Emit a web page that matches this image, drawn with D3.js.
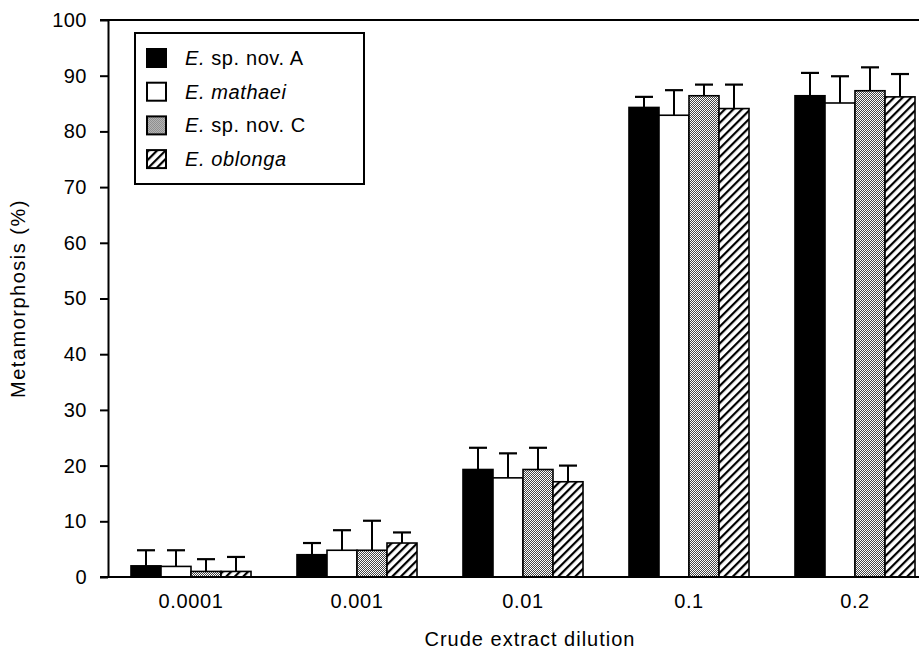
<!DOCTYPE html>
<html>
<head>
<meta charset="utf-8">
<script src="https://cdn.jsdelivr.net/npm/d3@7"></script>
<style>
  html, body { margin: 0; padding: 0; background: #fff; }
  svg { display: block; font-family: "Liberation Sans", Arial, sans-serif; }
</style>
</head>
<body>
<div id="chart"></div>
<script>
// Dilutions on the x axis
const dilutions = ['0.0001', '0.001', '0.01', '0.1', '0.2'];

// Species (legend order)
const species = ['spA', 'mathaei', 'spC', 'oblonga'];

// Mean metamorphosis (%) per species, one value per dilution
const spA     = [2.0, 4.0, 19.3, 84.3, 86.4];
const mathaei = [1.9, 4.8, 17.8, 82.9, 85.1];
const spC     = [1.0, 4.8, 19.3, 86.4, 87.3];
const oblonga = [1.0, 6.1, 17.1, 84.1, 86.2];

// Upper error bars (SD)
const spA_err     = [2.8, 2.1, 3.9, 1.9, 4.1];
const mathaei_err = [2.9, 3.6, 4.4, 4.5, 4.8];
const spC_err     = [2.2, 5.3, 3.9, 2.0, 4.2];
const oblonga_err = [2.6, 1.9, 2.9, 4.3, 4.1];

const yTicks = [0, 10, 20, 30, 40, 50, 60, 70, 80, 90, 100];

const means = { spA, mathaei, spC, oblonga };
const errs = { spA: spA_err, mathaei: mathaei_err, spC: spC_err, oblonga: oblonga_err };

const width = 919, height = 651;
const margin = { top: 20, left: 108, bottom: 74 };
const plotRight = 938; // the frame runs off the right edge

const svg = d3.select('#chart').append('svg')
  .attr('width', width)
  .attr('height', height);

// Fill patterns
const defs = svg.append('defs');

const checker = defs.append('pattern')
  .attr('id', 'checker')
  .attr('patternUnits', 'userSpaceOnUse')
  .attr('width', 2).attr('height', 2);
checker.append('rect').attr('width', 2).attr('height', 2).attr('fill', '#fff');
checker.append('rect').attr('width', 1).attr('height', 1).attr('fill', '#444');
checker.append('rect').attr('x', 1).attr('y', 1).attr('width', 1).attr('height', 1).attr('fill', '#444');

const hatch = defs.append('pattern')
  .attr('id', 'hatch')
  .attr('patternUnits', 'userSpaceOnUse')
  .attr('width', 6).attr('height', 6)
  .attr('patternTransform', 'rotate(45)');
hatch.append('rect').attr('width', 6).attr('height', 6).attr('fill', '#fff');
hatch.append('rect').attr('width', 2.2).attr('height', 6).attr('fill', '#000');

const fills = {
  spA: '#000',
  mathaei: '#fff',
  spC: 'url(#checker)',
  oblonga: 'url(#hatch)'
};

// Scales
const x = d3.scaleBand()
  .domain(dilutions)
  .range([margin.left, plotRight])
  .paddingInner(0.277)
  .paddingOuter(0.1385);

const xs = d3.scaleBand()
  .domain(species)
  .range([0, x.bandwidth()]);

const y = d3.scaleLinear()
  .domain([0, 100])
  .range([height - margin.bottom, margin.top]);

// Bars
const groups = svg.append('g').selectAll('g')
  .data(dilutions)
  .join('g')
  .attr('transform', d => `translate(${x(d)},0)`);

const cells = groups.selectAll('g')
  .data((d, i) => species.map(s => ({ s, v: means[s][i], e: errs[s][i] })))
  .join('g');

// error bars (upper only), drawn first so bar outline sits on top
cells.append('line')
  .attr('x1', d => xs(d.s) + xs.bandwidth() / 2)
  .attr('x2', d => xs(d.s) + xs.bandwidth() / 2)
  .attr('y1', d => y(d.v))
  .attr('y2', d => y(d.v + d.e))
  .attr('stroke', '#000')
  .attr('stroke-width', 2);

cells.append('line')
  .attr('x1', d => xs(d.s) + xs.bandwidth() / 2 - 9)
  .attr('x2', d => xs(d.s) + xs.bandwidth() / 2 + 9)
  .attr('y1', d => y(d.v + d.e))
  .attr('y2', d => y(d.v + d.e))
  .attr('stroke', '#000')
  .attr('stroke-width', 2.2);

cells.append('rect')
  .attr('x', d => xs(d.s))
  .attr('y', d => y(d.v))
  .attr('width', xs.bandwidth())
  .attr('height', d => y(0) - y(d.v))
  .attr('fill', d => fills[d.s])
  .attr('stroke', '#000')
  .attr('stroke-width', 1.6);

// Frame lines: baseline and top line
svg.append('line')
  .attr('x1', margin.left - 8).attr('x2', plotRight)
  .attr('y1', y(0)).attr('y2', y(0))
  .attr('stroke', '#000').attr('stroke-width', 2);

svg.append('line')
  .attr('x1', margin.left - 8).attr('x2', plotRight)
  .attr('y1', y(100)).attr('y2', y(100))
  .attr('stroke', '#000').attr('stroke-width', 2);

// Y axis
const yAxis = svg.append('g')
  .attr('transform', `translate(${margin.left},0)`)
  .call(d3.axisLeft(y).tickValues(yTicks).tickSize(8).tickSizeOuter(0).tickPadding(13));
yAxis.select('.domain').attr('stroke-width', 2);
yAxis.selectAll('.tick line').attr('stroke-width', 2);
yAxis.selectAll('.tick text')
  .attr('font-size', 20)
  .attr('letter-spacing', 0.5)
  .attr('fill', '#000')
  .attr('font-family', '"Liberation Sans", Arial, sans-serif');

// X axis (labels only)
const xAxis = svg.append('g')
  .attr('transform', `translate(0,${y(0)})`)
  .call(d3.axisBottom(x).tickSize(0).tickPadding(17));
xAxis.select('.domain').remove();
xAxis.selectAll('.tick text')
  .attr('font-size', 20)
  .attr('letter-spacing', 0.6)
  .attr('fill', '#000')
  .attr('font-family', '"Liberation Sans", Arial, sans-serif');

// Axis titles
svg.append('text')
  .attr('x', 530)
  .attr('y', 646)
  .attr('text-anchor', 'middle')
  .attr('font-size', 20)
  .attr('letter-spacing', 1)
  .text('Crude extract dilution');

svg.append('text')
  .attr('transform', `translate(25,${(y(0) + y(100)) / 2}) rotate(-90)`)
  .attr('text-anchor', 'middle')
  .attr('font-size', 20)
  .attr('letter-spacing', 1.5)
  .text('Metamorphosis (%)');

// Legend
const legendLabels = [
  { s: 'spA', ital: 'E.', rest: ' sp. nov. A' },
  { s: 'mathaei', ital: 'E. mathaei', rest: '' },
  { s: 'spC', ital: 'E.', rest: ' sp. nov. C' },
  { s: 'oblonga', ital: 'E. oblonga', rest: '' }
];

const legend = svg.append('g');
legend.append('rect')
  .attr('x', 135).attr('y', 33)
  .attr('width', 229).attr('height', 151)
  .attr('fill', '#fff')
  .attr('stroke', '#000')
  .attr('stroke-width', 2);

const rows = legend.selectAll('g.row')
  .data(legendLabels)
  .join('g')
  .attr('class', 'row')
  .attr('transform', (d, i) => `translate(147,${58 + i * 33.7})`);

rows.append('rect')
  .attr('x', 0).attr('y', -9)
  .attr('width', 19).attr('height', 18)
  .attr('fill', d => fills[d.s])
  .attr('stroke', '#000')
  .attr('stroke-width', 2);

const labels = rows.append('text')
  .attr('x', 38)
  .attr('y', 7)
  .attr('font-size', 20)
  .attr('letter-spacing', 0.6);
labels.append('tspan').attr('font-style', 'italic').text(d => d.ital);
labels.append('tspan').text(d => d.rest);
</script>
</body>
</html>
